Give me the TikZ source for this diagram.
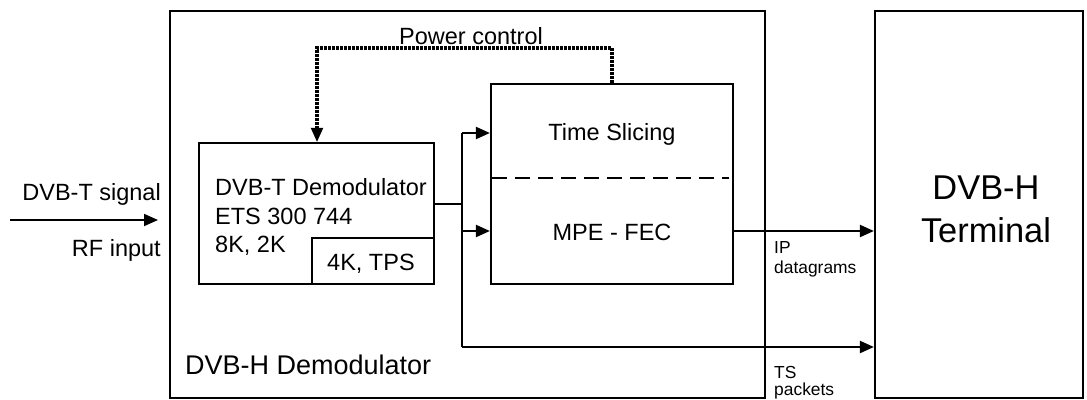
\documentclass[tikz,border=0pt]{standalone}
\usepackage{fontspec}
\setmainfont{Liberation Sans}
\usetikzlibrary{arrows.meta}
\begin{document}
\begin{tikzpicture}[x=1pt,y=-1pt,
  box/.style={draw,line width=2.2pt,inner sep=0pt},
  txt/.style={inner sep=0pt,font=\fontsize{23.5}{28}\selectfont},
  big/.style={inner sep=0pt,font=\fontsize{27}{32}\selectfont},
  huge/.style={inner sep=0pt,font=\fontsize{34.4}{40}\selectfont},
  small/.style={inner sep=0pt,font=\fontsize{17.4}{20}\selectfont},
  arr/.style={line width=2.2pt,-{Triangle[length=14pt,width=12pt]}},
  conn/.style={line width=2.2pt},
  pwr/.style={line width=3.2pt,dash pattern=on 2.5pt off 1.5pt},
  divider/.style={line width=2.5pt,dash pattern=on 15pt off 8pt}]
\useasboundingbox (0,0) rectangle (1087,399);
% boxes
\node[box,minimum width=595pt,minimum height=387pt] (demod) at (467.5,204.5) {};
\node[box,minimum width=208pt,minimum height=387pt] (term) at (979,204.5) {};
\node[box,minimum width=235pt,minimum height=141pt] (dvbt) at (316.5,213.5) {};
\node[box,minimum width=122pt,minimum height=46pt] (tps) at (373,261) {};
\node[box,minimum width=242pt,minimum height=200pt] (ts) at (612,184) {};
% divider
\coordinate (dl) at (492,178);
\coordinate (dr) at (729,178);
\draw[divider] (dl) -- (dr);
% texts
\node[txt,anchor=base west] (l1) at (215,195) {DVB-T Demodulator};
\node[txt,anchor=base west] (l2) at (215,224) {ETS 300 744};
\node[txt,anchor=base west] (l3) at (215,252) {8K, 2K};
\node[txt,anchor=base west] (l4) at (327,270) {4K, TPS};
\node[txt,anchor=base] (tsl) at (612,140.5) {Time Slicing};
\node[txt,anchor=base] (mpe) at (612,240.5) {MPE - FEC};
\node[txt,anchor=base] (pcl) at (471,44) {Power control};
\node[txt,anchor=base east] (sig) at (161,200.5) {DVB-T signal};
\node[txt,anchor=base east] (rf) at (161,256.5) {RF input};
\node[big,anchor=base west] (dhd) at (185,374) {DVB-H Demodulator};
\node[huge,anchor=base] (t1) at (986,199.5) {DVB-H};
\node[huge,anchor=base] (t2) at (986,242.5) {Terminal};
\node[small,anchor=base west] (ip) at (774,253) {IP};
\node[small,anchor=base west] (dg) at (774,273) {datagrams};
\node[small,anchor=base west] (tsp) at (774,378) {TS};
\node[small,anchor=base west] (pk) at (774,395) {packets};
% input arrow
\coordinate (inS) at (10,220);
\coordinate (inE) at (158,220);
\draw[line width=1.8pt,-{Triangle[length=14pt,width=12pt]}] (inS) -- (inE);
% power control
\coordinate (pc) at (317,48);
\draw[pwr] (ts.north) |- (pc) -- ([yshift=14pt]pc |- dvbt.north);
\draw[line width=2pt,-{Triangle[length=14pt,width=12pt]}] ([yshift=15pt]pc |- dvbt.north) -- (pc |- dvbt.north);
% connectors
\coordinate (j) at (462,204);
\coordinate (jt) at (462,133);
\coordinate (jm) at (462,231);
\coordinate (jb) at (462,347);
\draw[conn] (j -| dvbt.east) -- (j);
\draw[conn] (jt) -- (jb);
\draw[arr] (jt) -- (jt -| ts.west);
\draw[arr] (jm) -- (jm -| ts.west);
\draw[arr] (jb) -- (jb -| term.west);
\draw[arr] (jm -| ts.east) -- (jm -| term.west);
\end{tikzpicture}
\end{document}
